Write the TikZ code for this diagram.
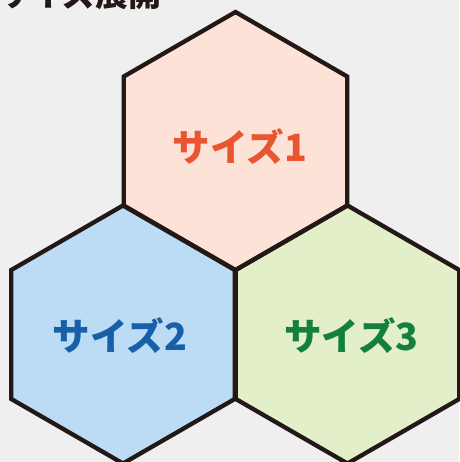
\documentclass[tikz,border=0pt]{standalone}
\usepackage{fontspec}
\usetikzlibrary{calc}
\newfontfamily\cjk{Noto Sans CJK JP}
\definecolor{bgc}{HTML}{EFEFEF}
\definecolor{peach}{HTML}{FDE3D7}
\definecolor{sky}{HTML}{BBDCF4}
\definecolor{leaf}{HTML}{E2EFC8}
\definecolor{edge}{HTML}{231815}
\definecolor{redtxt}{HTML}{E8552F}
\definecolor{bluetxt}{HTML}{1760A9}
\definecolor{greentxt}{HTML}{13803F}
\tikzset{
  hexline/.style={draw=edge, line width=4.3pt, line join=miter},
  lbl/.style={font=\cjk\bfseries\fontsize{37.5}{37.5}\selectfont, inner sep=0pt},
}
\begin{document}
\begin{tikzpicture}[x=1pt,y=-1pt]
\useasboundingbox[fill=bgc] (0,0) rectangle (459,462);
\def\R{129}
\foreach \cx/\cy/\col in {235.5/141/peach,123/334.5/sky,347.5/334.5/leaf}{
  \fill[\col] ($(\cx,\cy)+(90:\R)$) -- ($(\cx,\cy)+(150:\R)$) -- ($(\cx,\cy)+(210:\R)$) -- ($(\cx,\cy)+(270:\R)$) -- ($(\cx,\cy)+(330:\R)$) -- ($(\cx,\cy)+(30:\R)$) -- cycle;
}
\foreach \cx/\cy in {235.5/141,123/334.5,347.5/334.5}{
  \draw[hexline] ($(\cx,\cy)+(90:\R)$) -- ($(\cx,\cy)+(150:\R)$) -- ($(\cx,\cy)+(210:\R)$) -- ($(\cx,\cy)+(270:\R)$) -- ($(\cx,\cy)+(330:\R)$) -- ($(\cx,\cy)+(30:\R)$) -- cycle;
}
\node[lbl, text=redtxt] (s1) at (240,146.5) {サイズ1};
\node[lbl, text=bluetxt] (s2) at (120,336) {サイズ2};
\node[lbl, text=greentxt] (s3) at (351.5,336) {サイズ3};
\node[lbl, text=edge, anchor=base west, font=\cjk\bfseries\fontsize{33}{33}\selectfont] (title) at (-3,7) {サイズ展開};
\end{tikzpicture}
\end{document}
